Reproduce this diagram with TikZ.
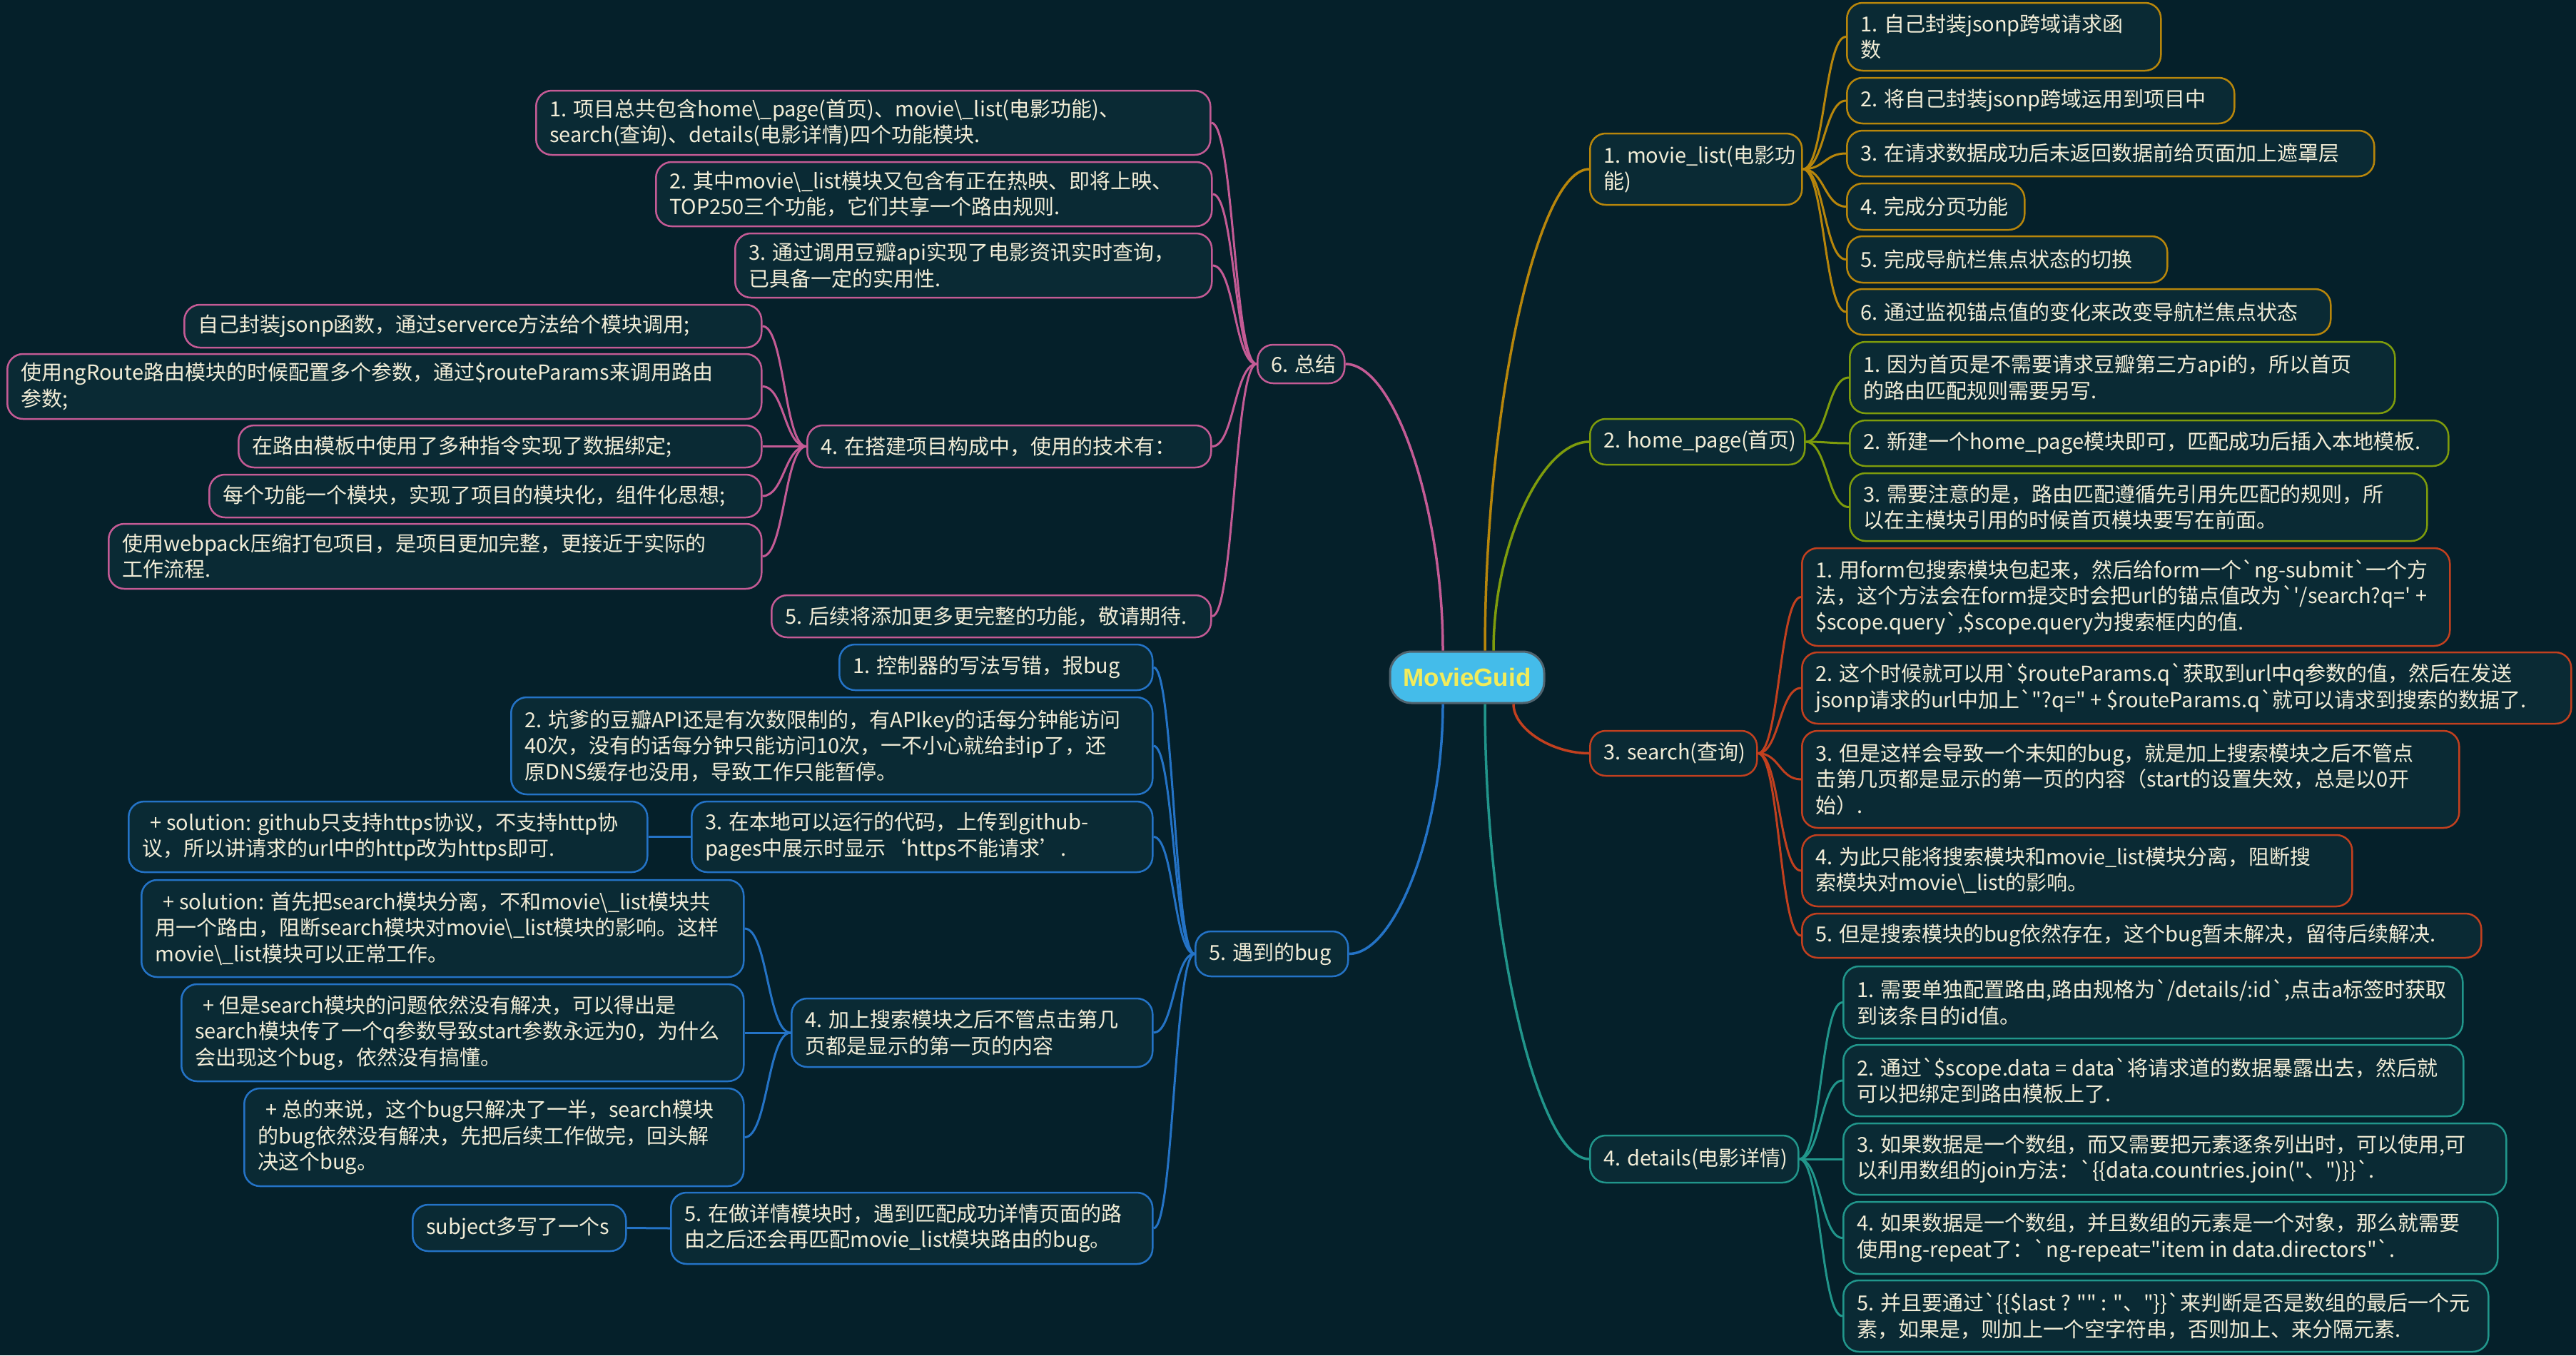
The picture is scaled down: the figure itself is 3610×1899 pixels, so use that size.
\documentclass[tikz,border=0pt]{standalone}
\usepackage{fontspec}
\setmainfont{Noto Sans CJK SC}[Ligatures=TeXOff]
\newfontfamily\titlefont{Liberation Sans}[Ligatures=TeXOff]
\usetikzlibrary{calc}
\definecolor{bgc}{HTML}{05202A}
\definecolor{nodefill}{HTML}{0A2A34}
\definecolor{textc}{HTML}{F2EDD7}
\definecolor{orangeC}{HTML}{B8860B}
\definecolor{oliveC}{HTML}{7E9C0C}
\definecolor{redC}{HTML}{C2401F}
\definecolor{tealC}{HTML}{21968B}
\definecolor{pinkC}{HTML}{C45B95}
\definecolor{blueC}{HTML}{2473C6}
\definecolor{cenfill}{HTML}{44BCEA}
\definecolor{centext}{HTML}{F2EC5B}
\definecolor{cenborder}{HTML}{50636E}
\tikzset{
  box/.style={draw, line width=2.5pt, fill=nodefill, rounded corners=22pt, inner sep=0pt},
  txt/.style={text=textc, align=left, inner sep=0pt, font=\fontsize{29}{36.5}\selectfont},
  link/.style={line width=3pt},
  mlink/.style={line width=3.5pt},
  brlink/.style={to path={.. controls ($(\tikztostart)!0.5!(\tikztotarget |- \tikztostart)$) and ($(\tikztostart |- \tikztotarget)!0.5!(\tikztotarget)$) .. (\tikztotarget)}},
  mainlink/.style={to path={.. controls ($(\tikztostart)!0.5!(\tikztostart |- \tikztotarget)$) and ($(\tikztostart |- \tikztotarget)!0.5!(\tikztotarget)$) .. (\tikztotarget)}},
  cenbox/.style={draw=cenborder, line width=3pt, fill=cenfill, rounded corners=30pt, text=centext,
    minimum width=216pt, minimum height=72pt, font=\titlefont\bfseries\fontsize{35}{40}\selectfont}
}
\newcommand\mmbox[7]{%
  \pgfmathsetmacro\mmw{#4-#2}%
  \pgfmathsetmacro\mmh{#5-#3}%
  \pgfmathsetmacro\mmy{(#3+#5)/2}%
  \node[box, draw=#6, minimum height=\mmh pt, minimum width=\mmw pt, anchor=west] (#1) at (#2,\mmy) {};
  \node[txt, anchor=west] (#1t) at ($(#1.west)+(20,0)$) {#7};}
\begin{document}
\begin{tikzpicture}[x=1pt,y=-1pt]
\fill[bgc] (0,0) rectangle (3610,1899);
\useasboundingbox (0,0) rectangle (3610,1899);
\node[cenbox] (cen) at (2056,949) {MovieGuid};
% right: movie_list
\mmbox{ml}{2227}{187}{2524}{287}{orangeC}{1. movie\_list(电影功\\能)}
\mmbox{ml1}{2587}{4}{3027}{99}{orangeC}{1. 自己封装jsonp跨域请求函\\数}
\mmbox{ml2}{2587}{109}{3130}{173}{orangeC}{2. 将自己封装jsonp跨域运用到项目中}
\mmbox{ml3}{2587}{183}{3326}{247}{orangeC}{3. 在请求数据成功后未返回数据前给页面加上遮罩层}
\mmbox{ml4}{2587}{257}{2836}{322}{orangeC}{4. 完成分页功能}
\mmbox{ml5}{2587}{331}{3036}{396}{orangeC}{5. 完成导航栏焦点状态的切换}
\mmbox{ml6}{2587}{405}{3265}{469}{orangeC}{6. 通过监视锚点值的变化来改变导航栏焦点状态}
% home_page
\mmbox{hp}{2227}{587}{2528}{651}{oliveC}{2. home\_page(首页)}
\mmbox{hp1}{2591}{479}{3355}{579}{oliveC}{1. 因为首页是不需要请求豆瓣第三方api的，所以首页\\的路由匹配规则需要另写.}
\mmbox{hp2}{2591}{589}{3430}{653}{oliveC}{2. 新建一个home\_page模块即可，匹配成功后插入本地模板.}
\mmbox{hp3}{2591}{663}{3400}{758}{oliveC}{3. 需要注意的是，路由匹配遵循先引用先匹配的规则，所\\以在主模块引用的时候首页模块要写在前面。}
% search
\mmbox{se}{2227}{1024}{2461}{1087}{redC}{3. search(查询)}
\mmbox{se1}{2524}{768}{3432}{905}{redC}{1. 用form包搜索模块包起来，然后给form一个`ng-submit`一个方\\法，这个方法会在form提交时会把url的锚点值改为`'/search?q=' +\\\$scope.query`,\$scope.query为搜索框内的值.}
\mmbox{se2}{2524}{914}{3602}{1014}{redC}{2. 这个时候就可以用`\$routeParams.q`获取到url中q参数的值，然后在发送\\jsonp请求的url中加上`"?q=" + \$routeParams.q`就可以请求到搜索的数据了.}
\mmbox{se3}{2524}{1024}{3445}{1160}{redC}{3. 但是这样会导致一个未知的bug，就是加上搜索模块之后不管点\\击第几页都是显示的第一页的内容（start的设置失效，总是以0开\\始）.}
\mmbox{se4}{2524}{1170}{3295}{1270}{redC}{4. 为此只能将搜索模块和movie\_list模块分离，阻断搜\\索模块对movie\textbackslash\_list的影响。}
\mmbox{se5}{2524}{1280}{3476}{1342}{redC}{5. 但是搜索模块的bug依然存在，这个bug暂未解决，留待后续解决.}
% details
\mmbox{de}{2227}{1591}{2519}{1657}{tealC}{4. details(电影详情)}
\mmbox{de1}{2582}{1354}{3450}{1455}{tealC}{1. 需要单独配置路由,路由规格为`/details/:id`,点击a标签时获取\\到该条目的id值。}
\mmbox{de2}{2582}{1464}{3451}{1564}{tealC}{2. 通过`\$scope.data = data`将请求道的数据暴露出去，然后就\\可以把绑定到路由模板上了.}
\mmbox{de3}{2582}{1574}{3511}{1674}{tealC}{3. 如果数据是一个数组，而又需要把元素逐条列出时，可以使用,可\\以利用数组的join方法：`\{\{data.countries.join("、")\}\}`.}
\mmbox{de4}{2582}{1684}{3499}{1785}{tealC}{4. 如果数据是一个数组，并且数组的元素是一个对象，那么就需要\\使用ng-repeat了：`ng-repeat="item in data.directors"`.}
\mmbox{de5}{2582}{1794}{3486}{1894}{tealC}{5. 并且要通过`\{\{\$last ? "" : "、"\}\}`来判断是否是数组的最后一个元\\素，如果是，则加上一个空字符串，否则加上、来分隔元素.}
% left: summary
\mmbox{zj}{1761}{483}{1883}{537}{pinkC}{6. 总结}
\mmbox{zj1}{750}{127}{1695}{217}{pinkC}{1. 项目总共包含home\textbackslash\_page(首页)、movie\textbackslash\_list(电影功能)、\\search(查询)、details(电影详情)四个功能模块.}
\mmbox{zj2}{918}{227}{1697}{317}{pinkC}{2. 其中movie\textbackslash\_list模块又包含有正在热映、即将上映、\\TOP250三个功能，它们共享一个路由规则.}
\mmbox{zj3}{1029}{327}{1697}{417}{pinkC}{3. 通过调用豆瓣api实现了电影资讯实时查询，\\已具备一定的实用性.}
\mmbox{zj4}{1130}{596}{1696}{655}{pinkC}{4. 在搭建项目构成中，使用的技术有：}
\mmbox{zj41}{257}{427}{1066}{487}{pinkC}{自己封装jsonp函数，通过serverce方法给个模块调用;}
\mmbox{zj42}{9}{496}{1066}{587}{pinkC}{使用ngRoute路由模块的时候配置多个参数，通过\$routeParams来调用路由\\参数;}
\mmbox{zj43}{333}{596}{1066}{655}{pinkC}{在路由模板中使用了多种指令实现了数据绑定;}
\mmbox{zj44}{292}{665}{1066}{725}{pinkC}{每个功能一个模块，实现了项目的模块化，组件化思想;}
\mmbox{zj45}{151}{734}{1066}{825}{pinkC}{使用webpack压缩打包项目，是项目更加完整，更接近于实际的\\工作流程.}
\mmbox{zj5}{1080}{834}{1696}{893}{pinkC}{5. 后续将添加更多更完整的功能，敬请期待.}
% left: bugs
\mmbox{bug}{1674}{1305}{1888}{1368}{blueC}{5. 遇到的bug}
\mmbox{bg1}{1175}{903}{1614}{967}{blueC}{1. 控制器的写法写错，报bug}
\mmbox{bg2}{715}{977}{1614}{1113}{blueC}{2. 坑爹的豆瓣API还是有次数限制的，有APIkey的话每分钟能访问\\40次，没有的话每分钟只能访问10次，一不小心就给封ip了，还\\原DNS缓存也没用，导致工作只能暂停。}
\mmbox{bg3}{968}{1123}{1614}{1222}{blueC}{3. 在本地可以运行的代码，上传到github-\\pages中展示时显示‘https不能请求’.}
\mmbox{bg31}{179}{1123}{906}{1222}{blueC}{\hspace{0.4em}+ solution: github只支持https协议，不支持http协\\议，所以讲请求的url中的http改为https即可.}
\mmbox{bg4}{1108}{1399}{1614}{1495}{blueC}{4. 加上搜索模块之后不管点击第几\\页都是显示的第一页的内容}
\mmbox{bg41}{197}{1233}{1041}{1369}{blueC}{\hspace{0.4em}+ solution: 首先把search模块分离，不和movie\textbackslash\_list模块共\\用一个路由，阻断search模块对movie\textbackslash\_list模块的影响。这样\\movie\textbackslash\_list模块可以正常工作。}
\mmbox{bg42}{253}{1379}{1041}{1515}{blueC}{\hspace{0.4em}+ 但是search模块的问题依然没有解决，可以得出是\\search模块传了一个q参数导致start参数永远为0，为什么\\会出现这个bug，依然没有搞懂。}
\mmbox{bg43}{341}{1525}{1041}{1662}{blueC}{\hspace{0.4em}+ 总的来说，这个bug只解决了一半，search模块\\的bug依然没有解决，先把后续工作做完，回头解\\决这个bug。}
\mmbox{bg5}{939}{1671}{1614}{1771}{blueC}{5. 在做详情模块时，遇到匹配成功详情页面的路\\由之后还会再匹配movie\_list模块路由的bug。}
\mmbox{bg51}{577}{1688}{876}{1753}{blueC}{subject多写了一个s}
% main links
\coordinate (m6) at ($(cen.north)+(-34,0)$);
\coordinate (m1) at ($(cen.north)+(25,0)$);
\coordinate (m2) at ($(cen.north)+(37,0)$);
\coordinate (m3) at ($(cen.south)+(65,0)$);
\coordinate (m5) at ($(cen.south)+(-34,0)$);
\coordinate (m4) at ($(cen.south)+(25,0)$);
\draw[mlink, pinkC] (m6) to[mainlink] (zj.east);
\draw[mlink, orangeC] (m1) to[mainlink] (ml.west);
\draw[mlink, oliveC] (m2) to[mainlink] (hp.west);
\draw[mlink, redC] (m3) to[mainlink] (se.west);
\draw[mlink, blueC] (m5) to[mainlink] (bug.east);
\draw[mlink, tealC] (m4) to[mainlink] (de.west);
% branch links
\foreach \c in {ml1,ml2,ml3,ml4,ml5,ml6} \draw[link, orangeC] (ml.east) to[brlink] (\c.west);
\foreach \c in {hp1,hp2,hp3} \draw[link, oliveC] (hp.east) to[brlink] (\c.west);
\foreach \c in {se1,se2,se3,se4,se5} \draw[link, redC] (se.east) to[brlink] (\c.west);
\foreach \c in {de1,de2,de3,de4,de5} \draw[link, tealC] (de.east) to[brlink] (\c.west);
\foreach \c in {zj1,zj2,zj3,zj4,zj5} \draw[link, pinkC] (zj.west) to[brlink] (\c.east);
\foreach \c in {zj41,zj42,zj43,zj44,zj45} \draw[link, pinkC] (zj4.west) to[brlink] (\c.east);
\foreach \c in {bg1,bg2,bg3,bg4,bg5} \draw[link, blueC] (bug.west) to[brlink] (\c.east);
\draw[link, blueC] (bg3.west) to[brlink] (bg31.east);
\foreach \c in {bg41,bg42,bg43} \draw[link, blueC] (bg4.west) to[brlink] (\c.east);
\draw[link, blueC] (bg5.west) to[brlink] (bg51.east);
\end{tikzpicture}
\end{document}
